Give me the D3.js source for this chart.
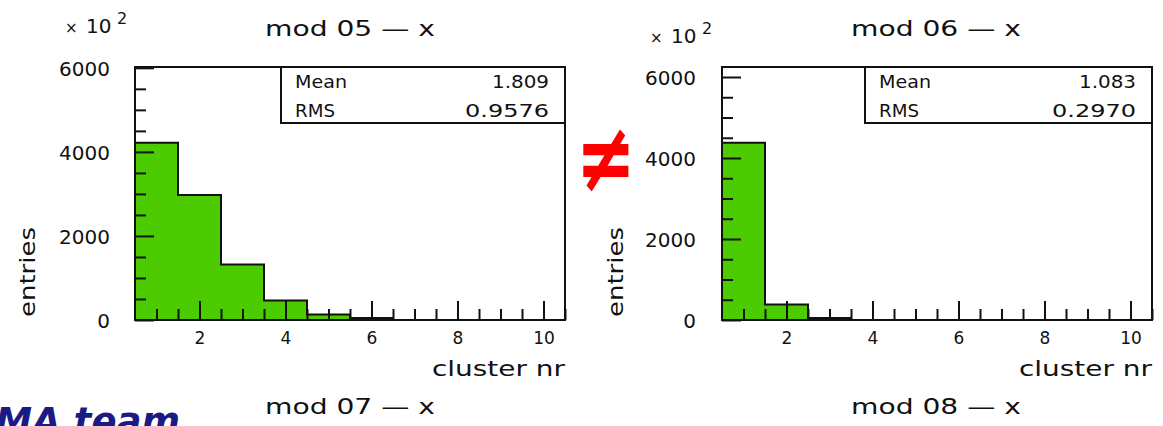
<!DOCTYPE html>
<html>
<head>
<meta charset="utf-8">
<script src="https://cdn.jsdelivr.net/npm/d3@7"></script>
<style>
  html, body { margin: 0; padding: 0; background: #fff; }
  svg { display: block; }
  text { font-family: "DejaVu Sans", sans-serif; fill: #111; }
</style>
</head>
<body>
<svg id="chart" width="1163" height="426"></svg>
<script>
// Cluster multiplicity per module, x plane (entries per bin, in units of 10^2 as shown)
const binCentres = [1, 2, 3, 4, 5, 6, 7, 8, 9, 10];
const mod05Counts = [4220, 2974, 1320, 464, 131, 48, 0, 0, 0, 0];
const mod06Counts = [4375, 383, 50, 0, 0, 0, 0, 0, 0, 0];

const xTickValues = [2, 4, 6, 8, 10];
const xTickLabels = ["2", "4", "6", "8", "10"];
const yTickValues = [0, 2000, 4000, 6000];
const yTickLabels = ["0", "2000", "4000", "6000"];

const statNames = ["Mean", "RMS"];
const mod05Stats = ["1.809", "0.9576"];
const mod06Stats = ["1.083", "0.2970"];

const topTitles = ["mod 05 \u2014 x", "mod 06 \u2014 x"];
const bottomTitles = ["mod 07 \u2014 x", "mod 08 \u2014 x"];

const svg = d3.select("#chart");
const GREEN = "#4ccb00";

// widths of the wide bitmap-style labels
const statNameWidths = [52, 40];
const statValueWidths = [57, 84];

function drawPanel(p) {
  const g = svg.append("g");
  const x = d3.scaleLinear().domain([0.5, 10.5]).range([p.left, p.right]);
  const y = d3.scaleLinear().domain([0, p.yMax]).range([p.bottom, p.top]);

  // filled histogram bars
  const bars = binCentres.map((c, i) => ({ c, v: p.counts[i] })).filter(d => d.v > 0);
  g.selectAll("rect.bin").data(bars).enter().append("rect")
    .attr("class", "bin")
    .attr("x", d => x(d.c - 0.5))
    .attr("width", d => x(d.c + 0.5) - x(d.c - 0.5))
    .attr("y", d => y(d.v))
    .attr("height", d => y(0) - y(d.v))
    .attr("fill", GREEN);

  // histogram outline (step line)
  const pts = [];
  binCentres.forEach((c, i) => {
    pts.push([x(c - 0.5), y(p.counts[i])]);
    pts.push([x(c + 0.5), y(p.counts[i])]);
  });
  pts.unshift([x(0.5), y(0)]);
  pts.push([x(10.5), y(0)]);
  g.append("path")
    .attr("d", d3.line()(pts))
    .attr("fill", "none")
    .attr("stroke", "#111")
    .attr("stroke-width", 2);

  // minor ticks
  const minorY = d3.range(0, p.yMax + 1, 500).filter(v => v % 2000 !== 0);
  const minorX = d3.range(1, 10.51, 0.5).filter(v => v % 2 !== 0);

  const yMinor = g.append("g").attr("transform", `translate(${p.left},0)`)
    .call(d3.axisLeft(y).tickValues(minorY).tickSizeInner(-11).tickSizeOuter(0).tickFormat(""));
  const yMajor = g.append("g").attr("transform", `translate(${p.left},0)`)
    .call(d3.axisLeft(y).tickValues(yTickValues).tickSizeInner(-19).tickSizeOuter(0)
      .tickPadding(p.yLabelPad).tickFormat((d, i) => yTickLabels[i]));
  const xMinor = g.append("g").attr("transform", `translate(0,${p.bottom})`)
    .call(d3.axisBottom(x).tickValues(minorX).tickSizeInner(-11).tickSizeOuter(0).tickFormat(""));
  const xMajor = g.append("g").attr("transform", `translate(0,${p.bottom})`)
    .call(d3.axisBottom(x).tickValues(xTickValues).tickSizeInner(-19).tickSizeOuter(0)
      .tickPadding(12).tickFormat((d, i) => xTickLabels[i]));

  [yMinor, yMajor, xMinor, xMajor].forEach(a => {
    a.select(".domain").remove();
    a.selectAll("line").attr("stroke", "#111").attr("stroke-width", 2);
    a.selectAll("text").attr("fill", "#111").style("font-family", "DejaVu Sans");
  });
  yMajor.selectAll("text").attr("font-size", 20).attr("dy", "0.36em");
  xMajor.selectAll("text").attr("font-size", 17).attr("dy", "0.71em");

  // frame
  g.append("rect")
    .attr("x", p.left).attr("y", p.top)
    .attr("width", p.right - p.left).attr("height", p.bottom - p.top)
    .attr("fill", "none").attr("stroke", "#111").attr("stroke-width", 2);

  // statistics box
  g.append("rect")
    .attr("x", p.statLeft).attr("y", p.top)
    .attr("width", p.right - p.statLeft).attr("height", 56)
    .attr("fill", "#fff").attr("stroke", "#111").attr("stroke-width", 2);
  statNames.forEach((n, i) => {
    g.append("text").attr("x", p.statLeft + 14).attr("y", p.top + 21 + i * 29)
      .attr("font-size", 17)
      .attr("textLength", statNameWidths[i]).attr("lengthAdjust", "spacingAndGlyphs")
      .text(n);
    g.append("text").attr("x", p.right - 16).attr("y", p.top + 21 + i * 29)
      .attr("font-size", 17).attr("text-anchor", "end")
      .attr("textLength", statValueWidths[i]).attr("lengthAdjust", "spacingAndGlyphs")
      .text(p.stats[i]);
  });

  // titles
  g.append("text").attr("x", p.titleX).attr("y", 36)
    .attr("font-size", 22).attr("textLength", 170).attr("lengthAdjust", "spacingAndGlyphs")
    .text(p.title);
  g.append("text").attr("x", p.titleX).attr("y", 414)
    .attr("font-size", 22).attr("textLength", 170).attr("lengthAdjust", "spacingAndGlyphs")
    .text(p.bottomTitle);

  // axis titles
  g.append("text").attr("x", p.right).attr("y", 376)
    .attr("font-size", 21).attr("text-anchor", "end")
    .attr("textLength", 133).attr("lengthAdjust", "spacingAndGlyphs")
    .text("cluster nr");
  g.append("text")
    .attr("transform", `translate(${p.entriesX},272) rotate(-90)`)
    .attr("font-size", 21).attr("text-anchor", "middle")
    .attr("textLength", 90).attr("lengthAdjust", "spacingAndGlyphs")
    .text("entries");

  // exponent label
  g.append("text").attr("x", p.expX).attr("y", p.expY)
    .attr("font-size", 15).text("\u00d7");
  g.append("text").attr("x", p.expX + 21).attr("y", p.expY)
    .attr("font-size", 20).text("10");
  g.append("text").attr("x", p.expX + 52).attr("y", p.expY - 9)
    .attr("font-size", 16).text("2");
}

drawPanel({
  left: 135, right: 565, top: 67, bottom: 320, yMax: 6020,
  counts: mod05Counts, stats: mod05Stats, statLeft: 281,
  title: topTitles[0], bottomTitle: bottomTitles[0], titleX: 265,
  yLabelPad: 25, entriesX: 35, expX: 65, expY: 33
});
drawPanel({
  left: 722, right: 1152, top: 67, bottom: 320, yMax: 6247,
  counts: mod06Counts, stats: mod06Stats, statLeft: 865,
  title: topTitles[1], bottomTitle: bottomTitles[1], titleX: 851,
  yLabelPad: 26, entriesX: 623, expX: 650, expY: 43
});

// inequality sign between the two modules
svg.append("text")
  .attr("transform", "translate(606,191) scale(1,1.35)")
  .attr("text-anchor", "middle")
  .attr("font-size", 72).attr("font-weight", "bold")
  .style("fill", "#ff0000")
  .text("\u2260");

// footer fragment
svg.append("text")
  .attr("x", 180).attr("y", 434)
  .attr("text-anchor", "end")
  .attr("font-size", 37).attr("font-weight", "bold").attr("font-style", "italic")
  .style("fill", "#1b1b85")
  .text("MA team");
</script>
</body>
</html>
